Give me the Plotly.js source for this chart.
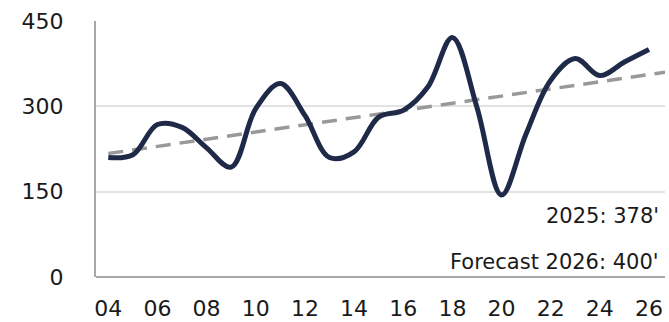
<!DOCTYPE html>
<html>
<head>
<meta charset="utf-8">
<script src="https://cdn.plot.ly/plotly-3.0.1.min.js"></script>
<style>
  html, body { margin: 0; padding: 0; background: #fff; }
  #chart { width: 669px; height: 322px; }
</style>
</head>
<body>
<div id="chart"></div>
<script>
// Annual values, 2004–2026 (2026 is a forecast)
const years = [2004, 2005, 2006, 2007, 2008, 2009, 2010, 2011, 2012, 2013, 2014, 2015,
               2016, 2017, 2018, 2019, 2020, 2021, 2022, 2023, 2024, 2025, 2026];
const values = [210, 215, 268, 263, 227, 193, 296, 340, 284, 210, 220, 281,
                293, 334, 421, 298, 144, 252, 346, 384, 354, 378, 400];

// Linear trend endpoints
const trendYears = [2004, 2026.65];
const trendValues = [217, 360];

// Axis ticks
const xTickVals = [2004, 2006, 2008, 2010, 2012, 2014, 2016, 2018, 2020, 2022, 2024, 2026];
const xTickText = ['04', '06', '08', '10', '12', '14', '16', '18', '20', '22', '24', '26'];
const yTickVals = [0, 150, 300, 450];

// Value callouts
const noteLines = ["2025: 378'", "Forecast 2026: 400'"];

const tickFont = { family: 'DejaVu Sans, Liberation Sans, Arial, sans-serif', size: 22, color: '#1a1a1a' };

const traces = [
  {
    x: trendYears, y: trendValues, type: 'scatter', mode: 'lines',
    line: { color: '#999999', width: 3.5, dash: '15px,9px' },
    hoverinfo: 'skip'
  },
  {
    x: years, y: values, type: 'scatter', mode: 'lines',
    line: { color: '#1f2a48', width: 5, shape: 'spline', smoothing: 1 }
  }
];

const layout = {
  width: 669, height: 322,
  margin: { l: 96, r: 4, t: 21, b: 45 },
  paper_bgcolor: '#ffffff', plot_bgcolor: '#ffffff',
  showlegend: false,
  xaxis: {
    range: [2003.5, 2026.65],
    tickvals: xTickVals, ticktext: xTickText,
    showgrid: false, zeroline: false,
    showline: false, ticks: '',
    tickfont: tickFont, ticklabelstandoff: 16,
    fixedrange: true
  },
  yaxis: {
    range: [0, 450],
    tickvals: yTickVals,
    showgrid: true, gridcolor: '#e2e2e2', gridwidth: 2,
    zeroline: true, zerolinecolor: '#a8a8a8', zerolinewidth: 2,
    showline: true, linecolor: '#a8a8a8', linewidth: 2,
    ticks: '', tickfont: tickFont, ticklabelstandoff: 26,
    fixedrange: true
  },
  annotations: noteLines.map((t, i) => ({
    text: t, xref: 'paper', yref: 'paper',
    x: 1, y: i === 0 ? 0.238 : 0.059,
    xanchor: 'right', yanchor: 'middle', xshift: -4,
    showarrow: false,
    font: { family: 'DejaVu Sans, Liberation Sans, Arial, sans-serif', size: 21, color: '#1a1a1a' }
  }))
};

Plotly.newPlot('chart', traces, layout, { displayModeBar: false, staticPlot: true });
</script>
</body>
</html>
